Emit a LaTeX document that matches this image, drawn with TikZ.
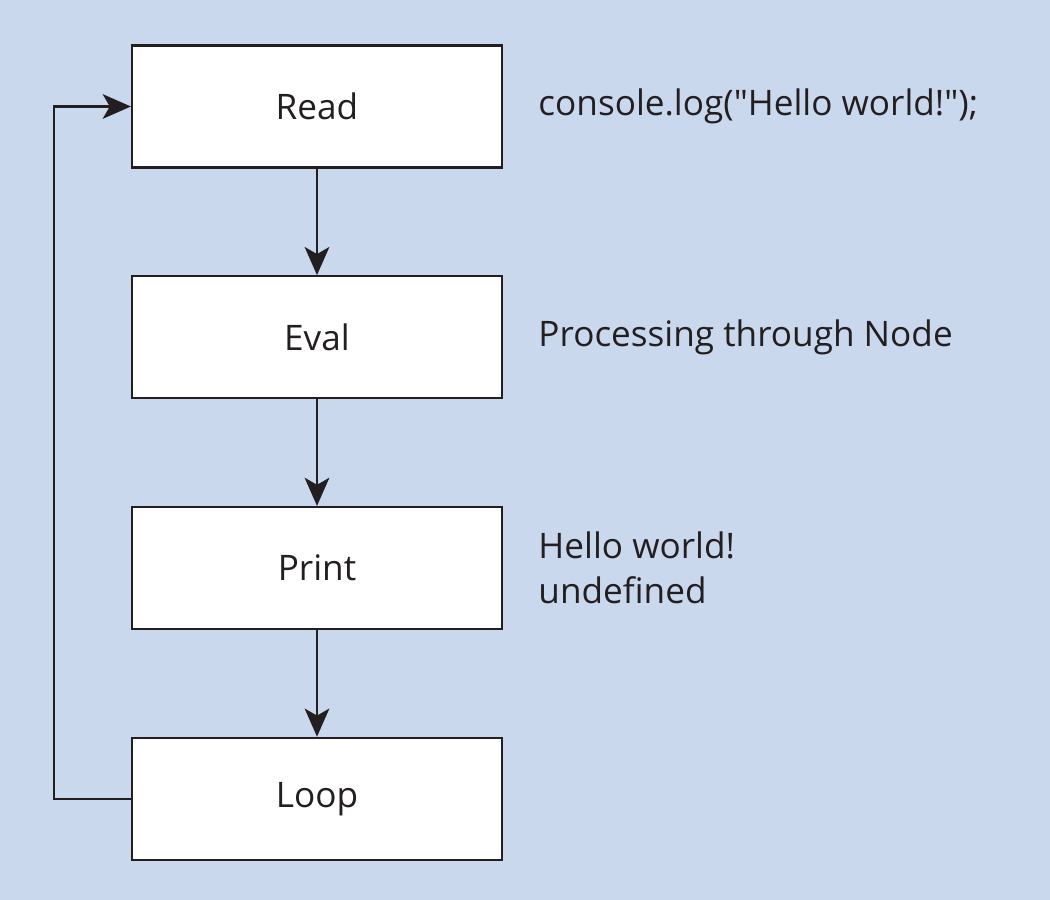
\documentclass[tikz,border=0pt]{standalone}
\usepackage{fontspec}
\setmainfont{Open Sans}
\usetikzlibrary{positioning, arrows.meta}
\definecolor{replblue}{RGB}{202, 216, 238}
\definecolor{repldark}{RGB}{35, 31, 32}

\begin{document}
\begin{tikzpicture}[
            node distance=2.13cm,
            stage/.style={draw=repldark, line width=1.3pt, fill=white, minimum width=7.4cm,
                          minimum height=2.44cm, align=center, font=\fontsize{20}{24}\selectfont, text=repldark},
            note/.style={inner sep=0pt, align=left, font=\fontsize{20}{25.5}\selectfont, text=repldark},
            arr/.style={-{Stealth[length=16pt, width=14pt, inset=4pt]}, line width=1.5pt, repldark}
        ]
            \fill[replblue] (0,0) rectangle (21,18);
            \useasboundingbox (0,0) rectangle (21,18);
            \node[stage] (read) at (6.34,15.87) {Read};
            \node[stage, below=of read] (eval) {Eval};
            \node[stage, below=of eval] (print) {Print};
            \node[stage, below=of print] (loop) {Loop};

            \node[note, right=0.7cm of read] (cmd) {console.log(\textquotedbl Hello world!\textquotedbl);};
            \node[note, right=0.7cm of eval] (proc) {Processing through Node};
            \node[note, right=0.7cm of print] (out) {Hello world!\\undefined};

            \draw[arr] (read) -- (eval);
            \draw[arr] (eval) -- (print);
            \draw[arr] (print) -- (loop);
            \draw[arr] (loop.west) -- ++(-1.54,0) |- (read.west);
        \end{tikzpicture}
\end{document}
